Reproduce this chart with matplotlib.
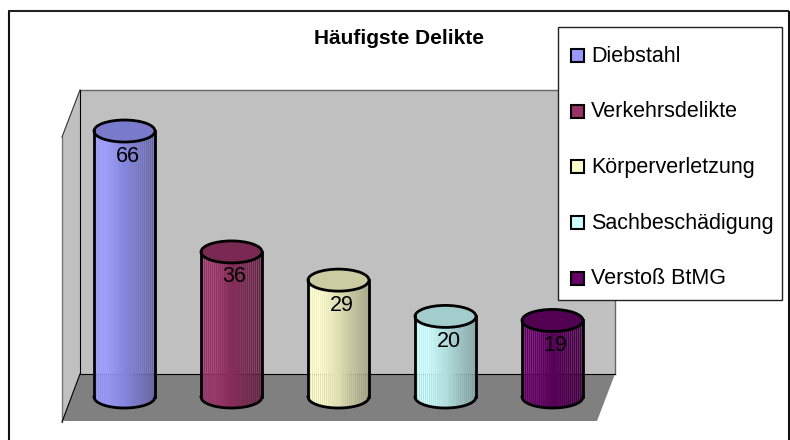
import matplotlib
matplotlib.use("Agg")
import matplotlib.pyplot as plt
from matplotlib.patches import Polygon, Rectangle, Ellipse
import numpy as np

plt.rcParams['font.family'] = ['Liberation Sans', 'DejaVu Sans']

title = "Häufigste Delikte"
categories = ["Diebstahl", "Verkehrsdelikte", "Körperverletzung", "Sachbeschädigung", "Verstoß BtMG"]
values = [66, 36, 29, 20, 19]
colors = ["#9999FF", "#993366", "#FFFFCC", "#CCFFFF", "#660066"]

W, H = 790, 440
fig = plt.figure(figsize=(W / 100, H / 100), dpi=100, facecolor="white")

# Pixel-space layer for the frame, walls and legend
bg = fig.add_axes([0, 0, 1, 1], zorder=0)
bg.set_xlim(0, W)
bg.set_ylim(H, 0)
bg.axis("off")

bg.plot([8.5, 8.5], [441, 11.5], color="#111111", lw=1.5, solid_capstyle="butt")
bg.plot([8, 789], [11.5, 11.5], color="#222222", lw=1.5, solid_capstyle="butt")
bg.plot([789, 789], [11, 441], color="#111111", lw=1.5, solid_capstyle="butt")

bg.add_patch(Polygon([(62, 137), (80, 90), (80, 374), (62, 422)], closed=True,
                     facecolor="#C0C0C0", edgecolor="none"))
bg.add_patch(Rectangle((80, 90), 535, 284, facecolor="#C0C0C0", edgecolor="none"))
bg.add_patch(Polygon([(80, 374), (615, 374), (597, 421), (62, 421)], closed=True,
                     facecolor="#808080", edgecolor="none"))
bg.plot([80, 615, 615], [90.5, 90.5, 374], color="#666666", lw=1)
bg.plot([62, 62], [137, 422], color="#777777", lw=1)
bg.plot([80, 80], [90, 374], color="black", lw=0.8)
bg.plot([62, 80], [422, 374], color="black", lw=0.8)
bg.plot([62, 80], [137, 90], color="#333333", lw=0.8)
bg.plot([80, 615], [374, 374], color="black", lw=0.8)

bg.text(399, 38, title, fontsize=15, fontweight="bold", ha="center", va="center", color="black")

# Data layer: categories on x, values on y
left, right, y0, ytop = 71, 606, 397, 90
ax = fig.add_axes([left / W, 1 - y0 / H, (right - left) / W, (y0 - ytop) / H], zorder=1)
ax.patch.set_alpha(0)
ax.set_xlim(-0.5, len(values) - 0.5)
ax.set_ylim(0, (y0 - ytop) / 4.03)
ax.axis("off")

hw = 0.285
eh = 11 / 4.03
n = 30
for i, (v, c) in enumerate(zip(values, colors)):
    rgb = np.array(matplotlib.colors.to_rgb(c))
    xs = np.linspace(i - hw, i + hw, n + 1)
    for k in range(n):
        xa, xb = xs[k], xs[k + 1]
        t = (k + 0.5) / n
        shade = 1.0 if t < 0.2 else 1.0 - 0.35 * (t - 0.2) / 0.8
        sx = np.linspace(xa, xb, 4)
        bot = -eh * np.sqrt(np.clip(1 - ((sx - i) / hw) ** 2, 0, 1))
        ax.fill_between(sx, bot, v, color=rgb * shade, lw=0, antialiased=True, zorder=2 + i * 0.01,
                        clip_on=False)
    top = Ellipse((i, v), 2 * hw, 2 * eh, facecolor=rgb * 0.8, edgecolor="black", lw=2.0,
                  zorder=3 + i * 0.01, clip_on=False)
    ax.add_patch(top)
    arc = np.linspace(i - hw, i + hw, 80)
    ax.plot(arc, -eh * np.sqrt(np.clip(1 - ((arc - i) / hw) ** 2, 0, 1)), color="black", lw=2.0,
            zorder=3 + i * 0.01, clip_on=False)
    ax.plot([i - hw, i - hw], [0, v], color="black", lw=2.0, zorder=3 + i * 0.01, clip_on=False)
    ax.plot([i + hw, i + hw], [0, v], color="black", lw=2.0, zorder=3 + i * 0.01, clip_on=False)
    ax.annotate(str(v), (i, v), xytext=(3, -25), textcoords="offset pixels", fontsize=15.5, color="black",
                ha="center", va="center", zorder=4, annotation_clip=False)

# Legend layer (above the plot)
lg = fig.add_axes([0, 0, 1, 1], zorder=2)
lg.patch.set_alpha(0)
lg.set_xlim(0, W)
lg.set_ylim(H, 0)
lg.axis("off")
lg.add_patch(Rectangle((557.5, 27.5), 224, 273, facecolor="white", edgecolor="#222222", lw=1))
for j, (name, c) in enumerate(zip(categories, colors)):
    yc = 55 + j * 55.7
    lg.add_patch(Rectangle((570.5, yc - 6), 13, 13, facecolor=c, edgecolor="black", lw=1.5))
    lg.text(591, yc + 1, name, fontsize=15.5, ha="left", va="center", color="black")

fig.savefig("out.png", dpi=100)
